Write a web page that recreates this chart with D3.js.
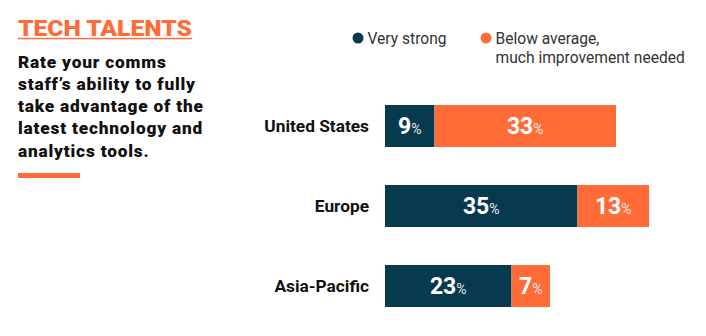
<!DOCTYPE html>
<html>
<head>
<meta charset="utf-8">
<script src="https://cdn.jsdelivr.net/npm/d3@7"></script>
<style>
  html, body { margin: 0; padding: 0; background: #fff; }
  svg { display: block; font-family: Roboto, "Liberation Sans", sans-serif; }
</style>
</head>
<body>
<svg id="chart" width="706" height="336"></svg>
<script>
// Survey results by region (share of respondents, %)
const regions = ["United States", "Europe", "Asia-Pacific"];
const veryStrong = [9, 35, 23];
const belowAverage = [33, 13, 7];

const seriesNames = ["Very strong", "Below average,\nmuch improvement needed"];
const titleText = "TECH TALENTS";
const subtitleLines = [
  "Rate your comms",
  "staff\u2019s ability to fully",
  "take advantage of the",
  "latest technology and",
  "analytics tools."
];

const NAVY = "#083a4f";
const ORANGE = "#ff6c37";

const svg = d3.select("#chart");

// ---- Title block ----
svg.append("text")
  .attr("x", 18).attr("y", 35.5)
  .attr("fill", ORANGE)
  .attr("font-size", 21.5)
  .attr("font-weight", 900)
  .attr("textLength", 174)
  .attr("lengthAdjust", "spacingAndGlyphs")
  .text(titleText);
svg.append("rect")
  .attr("x", 18).attr("y", 37.8).attr("width", 174).attr("height", 1.5)
  .attr("fill", ORANGE);

const sub = svg.append("text")
  .attr("fill", "#111")
  .attr("font-size", 17.3)
  .attr("font-weight", 900)
  .attr("letter-spacing", 0.8);
subtitleLines.forEach((line, i) => {
  sub.append("tspan").attr("x", 18).attr("y", 67.5 + i * 22.3).text(line);
});

svg.append("rect")
  .attr("x", 18).attr("y", 173).attr("width", 62).attr("height", 5)
  .attr("fill", ORANGE);

// ---- Legend ----
const legendColors = [NAVY, ORANGE];
const legendX = [358, 486];
seriesNames.forEach((name, i) => {
  const g = svg.append("g").attr("transform", `translate(${legendX[i]},38)`);
  g.append("circle").attr("r", 5.5).attr("fill", legendColors[i]);
  const t = g.append("text")
    .attr("fill", "#333")
    .attr("font-size", 15.6);
  name.split("\n").forEach((part, j) => {
    t.append("tspan").attr("x", 9.5).attr("y", 5.5 + j * 19).text(part);
  });
});

// ---- Scales ----
const x = d3.scaleLinear().domain([0, 50]).range([385, 660]);
const y = d3.scalePoint().domain(regions).range([126, 286]);
const barH = 42;

const rows = regions.map((r, i) => ({
  region: r,
  segs: [
    { v: veryStrong[i], x0: 0, x1: veryStrong[i], color: NAVY },
    { v: belowAverage[i], x0: veryStrong[i], x1: veryStrong[i] + belowAverage[i], color: ORANGE }
  ]
}));

const row = svg.selectAll("g.row").data(rows).join("g")
  .attr("class", "row")
  .attr("transform", d => `translate(0,${y(d.region)})`);

row.append("text")
  .attr("x", 369).attr("y", 0)
  .attr("dy", "0.35em")
  .attr("text-anchor", "end")
  .attr("fill", "#111")
  .attr("font-size", 17.3)
  .attr("font-weight", 700)
  .text(d => d.region);

const seg = row.selectAll("g.seg").data(d => d.segs).join("g").attr("class", "seg");

seg.append("rect")
  .attr("x", d => x(d.x0))
  .attr("y", -barH / 2)
  .attr("width", d => x(d.x1) - x(d.x0))
  .attr("height", barH)
  .attr("fill", d => d.color);

const lbl = seg.append("text")
  .attr("x", d => (x(d.x0) + x(d.x1)) / 2)
  .attr("y", 8)
  .attr("text-anchor", "middle")
  .attr("fill", "#fff");
lbl.append("tspan")
  .attr("font-size", 23)
  .attr("font-weight", 700)
  .text(d => d.v);
lbl.append("tspan")
  .attr("font-size", 14)
  .attr("font-weight", 400)
  .attr("fill", "#e8e8e8")
  .text("%");
</script>
</body>
</html>
